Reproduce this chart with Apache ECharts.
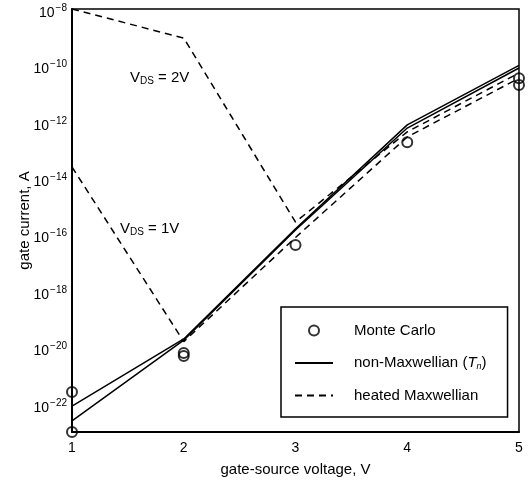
<!DOCTYPE html>
<html><head><meta charset="utf-8">
<script src="https://cdn.jsdelivr.net/npm/echarts@6/dist/echarts.min.js"></script>
<style>html,body{margin:0;padding:0;background:#fff}#c{width:528px;height:480px}</style>
</head><body><div id="c"></div>
<script>
// gate-source voltage, V
const vgs = [1, 2, 3, 4, 5];
// gate current, A
const nonMaxwellian1V = [2.5e-23, 1.8e-20, 1.45e-16, 6.0e-13, 8.1e-11];
const nonMaxwellian2V = [8.3e-23, 2.0e-20, 1.6e-16, 7.8e-13, 1.0e-10];
const heated1V = [2.5e-14, 1.6e-20, 7.9e-17, 2.9e-13, 3.5e-11];
const heated2V = [1.0e-8, 9.3e-10, 2.8e-16, 4.4e-13, 5.4e-11];
const mcVgs = [1, 1, 2, 2, 3, 4, 5, 5];
const mcCurrent = [2.6e-22, 1.0e-23, 5.0e-21, 6.3e-21, 4.3e-17, 1.9e-13, 3.5e-11, 2.0e-11];
const yExpMin = -23, yExpMax = -8;
const yLabelExps = [-22, -20, -18, -16, -14, -12, -10, -8];
const xTicks = ['1', '2', '3', '4', '5'];

const FONT = 'Liberation Sans, Arial, sans-serif';
const NM = 'non-Maxwellian (Tn)';
const HM = 'heated Maxwellian';
const MC = 'Monte Carlo';

const toPts = (xs, ys) => xs.map((x, i) => [x, Math.log10(ys[i])]);

const lineSeries = (name, data, dashed) => ({
  type: 'line', name, data: toPts(vgs, data), symbol: 'none',
  lineStyle: { color: '#000', width: 1.5, type: dashed ? [7, 5] : 'solid' },
  itemStyle: { color: '#000' }, z: 2, silent: true, animation: false
});

const chart = echarts.init(document.getElementById('c'), null, { renderer: 'canvas' });
chart.setOption({
  backgroundColor: '#fff',
  animation: false,
  grid: { left: 72, right: 9, top: 9, bottom: 48, show: true, borderColor: '#000', borderWidth: 1.5,
    containLabel: false, outerBoundsMode: 'none' },
  xAxis: {
    type: 'value', min: 1, max: 5, interval: 1,
    name: 'gate-source voltage, V', nameLocation: 'middle', nameGap: 30,
    nameTextStyle: { fontFamily: FONT, fontSize: 15, color: '#000' },
    axisLine: { lineStyle: { color: '#000', width: 2 } },
    axisTick: { show: false }, splitLine: { show: false },
    axisLabel: { fontFamily: FONT, fontSize: 14, color: '#000', margin: 9,
      formatter: v => xTicks[v - 1] || '' }
  },
  yAxis: {
    type: 'value', min: yExpMin, max: yExpMax, interval: 1,
    name: 'gate current, A', nameLocation: 'middle', nameGap: 40, nameRotate: 90,
    nameMoveOverlap: false,
    nameTextStyle: { fontFamily: FONT, fontSize: 15, color: '#000' },
    axisLine: { lineStyle: { color: '#000', width: 2 } },
    axisTick: { show: false }, splitLine: { show: false },
    axisLabel: {
      fontFamily: FONT, color: '#000', margin: 5,
      formatter: v => yLabelExps.indexOf(v) >= 0 ? '{b|10}{s|\u2212' + (-v) + '}' : '',
      rich: {
        b: { fontFamily: FONT, fontSize: 14, color: '#000', padding: [8, 0, 0, 0] },
        s: { fontFamily: FONT, fontSize: 10, color: '#000', padding: [0, 0, 2, 1] }
      }
    }
  },
  legend: {
    left: 281, top: 307, orient: 'vertical',
    data: [
      { name: MC },
      { name: NM, itemStyle: { opacity: 0 } },
      { name: HM, itemStyle: { opacity: 0 } }
    ],
    itemWidth: 38, itemHeight: 10, itemGap: 17.5,
    padding: [16, 21, 14, 13],
    borderColor: '#000', borderWidth: 1.5, backgroundColor: '#fff',
    selectedMode: false,
    formatter: n => n === NM ? '{a|non-Maxwellian (}{i|T}{n|n}{a|)}' : '{a|' + n + '}',
    textStyle: {
      fontFamily: FONT, fontSize: 15, color: '#000', padding: [0, 0, 0, 16],
      rich: {
        a: { fontFamily: FONT, fontSize: 15, color: '#000' },
        i: { fontFamily: FONT, fontSize: 15, color: '#000', fontStyle: 'italic' },
        n: { fontFamily: FONT, fontSize: 9, color: '#000', fontStyle: 'italic', padding: [6, 0, 0, 0] }
      }
    }
  },
  graphic: [
    { type: 'text', left: 130, top: 70, silent: true,
      style: { text: '{v|V}{d|DS}{v| = 2V}', rich: {
        v: { fontFamily: FONT, fontSize: 15, fill: '#000' },
        d: { fontFamily: FONT, fontSize: 10, fill: '#000', padding: [7, 0, 0, 0] } } } },
    { type: 'text', left: 120, top: 221, silent: true,
      style: { text: '{v|V}{d|DS}{v| = 1V}', rich: {
        v: { fontFamily: FONT, fontSize: 15, fill: '#000' },
        d: { fontFamily: FONT, fontSize: 10, fill: '#000', padding: [7, 0, 0, 0] } } } }
  ],
  series: [
    lineSeries(NM, nonMaxwellian1V, false),
    lineSeries(NM, nonMaxwellian2V, false),
    lineSeries(HM, heated1V, true),
    lineSeries(HM, heated2V, true),
    {
      type: 'scatter', name: MC, data: toPts(mcVgs, mcCurrent),
      symbol: 'circle', symbolSize: 10, z: 5, clip: false,
      itemStyle: { color: 'rgba(0,0,0,0)', borderColor: '#000', borderWidth: 2 }
    }
  ]
});
</script>
</body></html>
